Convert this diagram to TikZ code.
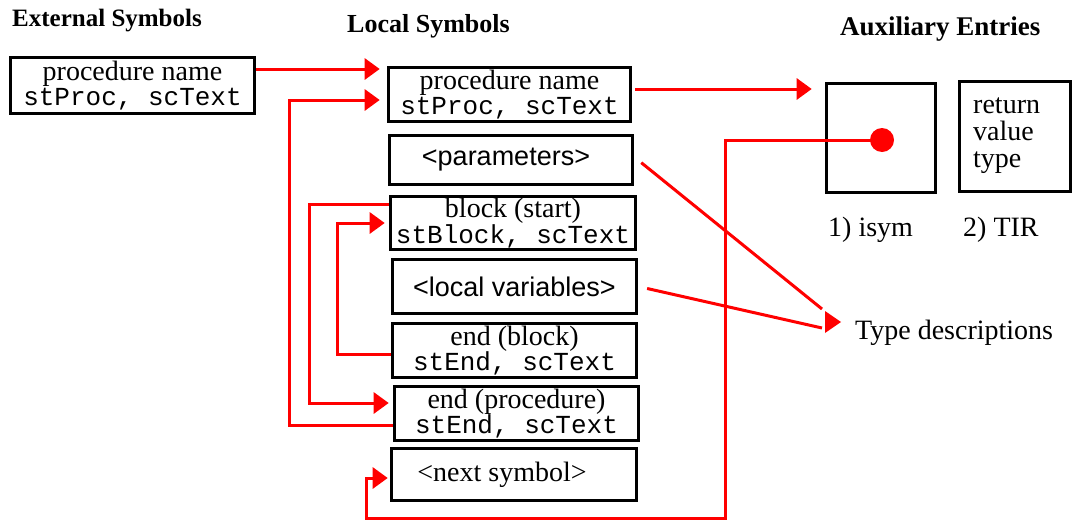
\documentclass[tikz,border=0pt]{standalone}
\usepackage{fontspec}
\setmainfont{Liberation Serif}
\newfontfamily\monof{Liberation Mono}
\newfontfamily\sansf{Liberation Sans}
\usetikzlibrary{arrows.meta,calc}
\definecolor{rd}{RGB}{255,0,0}
\begin{document}
\begin{tikzpicture}[x=1pt,y=-1pt,
  box/.style={draw=black,line width=3.6pt,inner sep=0pt,align=center,
    font=\fontsize{28}{24.5}\selectfont},
  lbl/.style={inner sep=0pt,font=\fontsize{28}{27}\selectfont},
  ttl/.style={inner sep=0pt,font=\bfseries},
  con/.style={draw=rd,line width=3pt},
  arr/.style={-{Triangle[length=15pt,width=21pt]},rd}]
\useasboundingbox (0,0) rectangle (1078,522);

% titles
\node[ttl,anchor=base west,font=\bfseries\fontsize{25}{25}\selectfont] (t1) at (12,27) {External Symbols};
\node[ttl,anchor=base west,font=\bfseries\fontsize{26}{26}\selectfont] (t2) at (347,32) {Local Symbols};
\node[ttl,anchor=base west,font=\bfseries\fontsize{27}{27}\selectfont] (t3) at (840,35) {Auxiliary Entries};

% external
\node[box,minimum width=244pt,minimum height=56pt] (ext) at (132.5,85.5)
  {procedure name\\{\monof\fontsize{26}{24.5}\selectfont stProc, scText}};

% local symbols
\node[box,minimum width=242pt,minimum height=54pt] (lp) at (509.5,94.5)
  {procedure name\\{\monof\fontsize{26}{24.5}\selectfont stProc, scText}};
\node[box,minimum width=243pt,minimum height=49pt,font=\sansf\fontsize{27}{27}\selectfont] (par) at (511,160) {<parameters>\hspace*{10pt}};
\node[box,minimum width=245pt,minimum height=53pt] (bs) at (513,223)
  {block (start)\\{\monof\fontsize{26}{24.5}\selectfont stBlock, scText}};
\node[box,minimum width=244pt,minimum height=54pt,font=\sansf\fontsize{27}{27}\selectfont] (lv) at (514.5,286.5) {<local variables>};
\node[box,minimum width=244pt,minimum height=54pt] (eb) at (514.5,350.5)
  {end (block)\\{\monof\fontsize{26}{24.5}\selectfont stEnd, scText}};
\node[box,minimum width=244pt,minimum height=54pt] (ep) at (516.5,413.5)
  {end (procedure)\\{\monof\fontsize{26}{24.5}\selectfont stEnd, scText}};
\node[box,minimum width=245pt,minimum height=52pt] (ns) at (514,474.5)
  {<next symbol>\hspace*{24pt}};

% auxiliary entries
\node[box,minimum width=109pt,minimum height=109pt] (ax1) at (881,138) {};
\node[box,minimum width=111pt,minimum height=110pt] (ax2) at (1015,136.5) {};
\node[lbl,anchor=north west,align=left] (rv) at (973,98) {return\\value\\type};
\node[lbl,anchor=base west] (isym) at (828,236) {1) isym};
\node[lbl,anchor=base west] (tir) at (963,236) {2) TIR};
\node[circle,fill=rd,minimum size=24pt,inner sep=0pt] (dot) at (882,140) {};
\node[lbl,anchor=base west] (td) at (855,339) {Type descriptions};

% connectors
\draw[con,arr,shorten >=7pt] ([yshift=16.5pt]ext.east) -- ([yshift=16.5pt]ext.east -| lp.west);
\draw[con,arr,shorten >=7pt] ([yshift=-11.5pt]ep.west) -- ++(-103,0) |- ([yshift=-5.5pt]lp.west);
\draw[con,arr,shorten >=4pt] ([yshift=19pt]bs.west) -- ++(-79,0) |- ([yshift=10.5pt]ep.west);
\draw[con,arr,shorten >=4pt] ([yshift=-3.5pt]eb.west) -- ++(-53,0) |- (bs.west);
\draw[con,arr,shorten <=3pt,shorten >=13pt] ([yshift=5.5pt]lp.east) -- ([yshift=5.5pt]lp.east -| ax1.west);
\coordinate (c1) at (725,518);
\coordinate (c2) at (366,518);
\draw[con,arr,shorten >=2pt] (dot.center) -| (c1) -- (c2) |- ([yshift=-3.5pt]ns.west);
\coordinate (tA) at (822,309);
\coordinate (tB) at (822,328);
\coordinate (tD) at (841,322);
\draw[con,shorten <=9pt] ([yshift=3pt]par.east) -- (tA);
\draw[con,shorten <=9pt] (lv.east) -- (tB);
\fill[rd] (tD) -- ++(-16,-11) -- ++(0,22) -- cycle;
\end{tikzpicture}
\end{document}
